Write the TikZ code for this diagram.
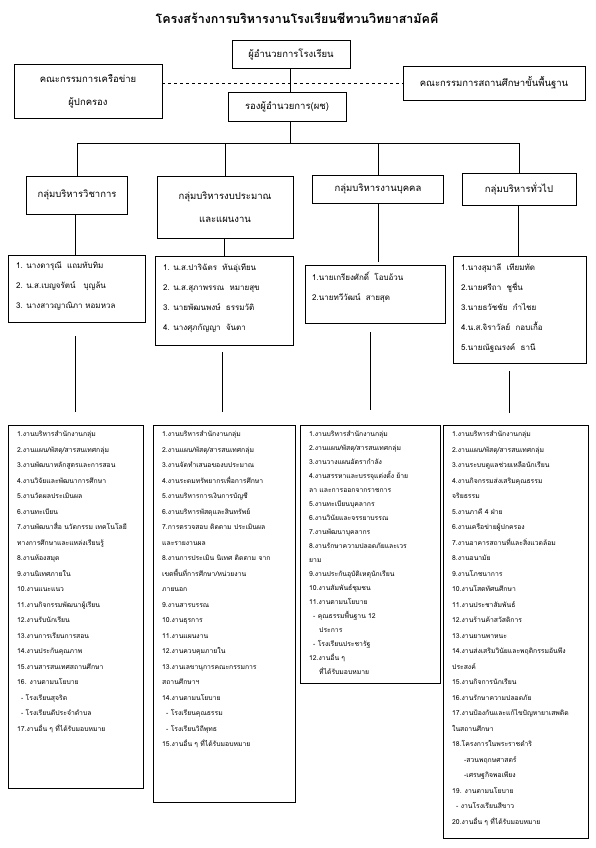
\documentclass[tikz,border=0pt]{standalone}
\usepackage{fontspec}
\setmainfont[Script=Thai]{Loma}
\begin{document}
\begin{tikzpicture}[x=1pt,y=-1pt,
  box/.style={draw, line width=0.8pt, inner sep=0pt},
  ln/.style={line width=0.8pt},
  midtxt/.style={font=\fontsize{9.5}{23}\selectfont, align=center},
  pertxt/.style={font=\fontsize{8}{20}\selectfont, align=left, anchor=north west, inner sep=0pt},
  tasktxt/.style={font=\fontsize{6.8}{15.5}\selectfont, align=left, anchor=north west, inner sep=0pt}]
\useasboundingbox[fill=white] (0,0) rectangle (595,848);

% title
\node[font=\fontsize{12.5}{14}\selectfont\bfseries] (title) at (297,18) {โครงสร้างการบริหารงานโรงเรียนชีทวนวิทยาสามัคคี};

% top level
\node[box, midtxt, minimum width=118pt, minimum height=28pt] (dir) at (291,54) {ผู้อำนวยการโรงเรียน};
\node[box, midtxt, minimum width=148pt, minimum height=54pt] (lc) at (88,91) {คณะกรรมการเครือข่าย\\ผู้ปกครอง};
\node[box, midtxt, minimum width=182pt, minimum height=34pt] (rc) at (494,83) {คณะกรรมการสถานศึกษาขั้นพื้นฐาน};
\node[box, midtxt, minimum width=118pt, minimum height=29pt] (dep) at (287,107) {รองผู้อำนวยการ(ผช)};

\draw[ln, dashed] (lc.east |- rc.west) -- (rc.west);
\draw[ln] (dir.south -| 290,0) -- (dep.north -| 290,0);

% groups
\node[box, midtxt, minimum width=101pt, minimum height=38pt] (g1) at (77,195) {กลุ่มบริหารวิชาการ};
\node[box, midtxt, minimum width=136pt, minimum height=62pt] (g2) at (225,207) {กลุ่มบริหารงบประมาณ\\และแผนงาน};
\node[box, midtxt, minimum width=131pt, minimum height=28pt] (g3) at (378,189) {กลุ่มบริหารงานบุคคล};
\node[box, midtxt, minimum width=114pt, minimum height=32pt] (g4) at (519,189) {กลุ่มบริหารทั่วไป};

\coordinate (bar) at (290,143);
\draw[ln] (dep.south -| bar) -- (bar);
\draw[ln] (g1.north |- bar) -- (g4.north |- bar);
\foreach \g in {g1,g2,g3,g4} \draw[ln] (\g.north |- bar) -- (\g.north);

% person boxes
\node[box, anchor=north west, minimum width=137pt, minimum height=67pt] (p1) at (8,255) {};
\node[box, anchor=north west, minimum width=138pt, minimum height=89pt] (p2) at (155,256) {};
\node[box, anchor=north west, minimum width=140pt, minimum height=58pt] (p3) at (305,265) {};
\node[box, anchor=north west, minimum width=133pt, minimum height=107pt] (p4) at (453,256) {};

\node[pertxt] (p1t) at (16,262) {1. นางดารุณี\ \ แถมทับทิม\\2. น.ส.เบญจรัตน์\ \ \ บุญล้น\\3. นางสาวญาณิภา หอมหวล};
\node[pertxt] (p2t) at (163,264) {1. น.ส.ปาริฉัตร\ \ ทันอุ่เทียน\\2. น.ส.สุภาพรรณ\ \ หมายสุข\\3. นายพัฒนพงษ์\ \ ธรรมวัติ\\4. นางศุภกัญญา\ \ จันตา};
\node[pertxt] (p3t) at (312,272) {1.นายเกรียงศักดิ์\ \ โอบอ้วน\\2.นายทวีวัฒน์\ \ สายสุด};
\node[pertxt] (p4t) at (461,264) {1.นางสุมาลี\ \ เทียมทัด\\2.นายศรีถา\ \ ชูชื่น\\3.นายธวัชชัย\ \ กำไชย\\4.น.ส.จิราวัลย์\ \ กอบเกื้อ\\5.นายณัฐณรงค์\ \ ธานี};

\draw[ln] (g1.south -| 75,0) -- (p1.north -| 75,0);
\draw[ln] (g2.south -| 224,0) -- (p2.north -| 224,0);
\draw[ln] (g3.south -| 378,0) coordinate (c3a) -- (378,262) coordinate (c3b);
\draw[ln] (g4.south -| 518,0) -- (p4.north -| 518,0);

% task boxes
\node[box, anchor=north west, minimum width=135pt, minimum height=363pt] (t1) at (8,425) {};
\node[box, anchor=north west, minimum width=142pt, minimum height=377pt] (t2) at (153,425) {};
\node[box, anchor=north west, minimum width=140pt, minimum height=258pt] (t3) at (300,425) {};
\node[box, anchor=north west, minimum width=145pt, minimum height=413pt] (t4) at (443,425) {};

\coordinate (a1) at (75,336); \coordinate (b1) at (75,412);
\coordinate (a2) at (222,352); \coordinate (b2) at (222,412);
\coordinate (a3) at (370,332); \coordinate (b3) at (370,410);
\coordinate (a4) at (509,371); \coordinate (b4) at (509,413);
\draw[ln] (a1) -- (b1);
\draw[ln] (a2) -- (b2);
\draw[ln] (a3) -- (b3);
\draw[ln] (a4) -- (b4);

\node[tasktxt] (t1t) at (17,431) {1.งานบริหารสำนักงานกลุ่ม\\2.งานแผน/พัสดุ/สารสนเทศกลุ่ม\\3.งานพัฒนาหลักสูตรและการสอน\\4.งานวิจัยและพัฒนาการศึกษา\\5.งานวัดผลประเมินผล\\6.งานทะเบียน\\7.งานพัฒนาสื่อ นวัตกรรม เทคโนโลยี\\ทางการศึกษาและแหล่งเรียนรู้\\8.งานห้องสมุด\\9.งานนิเทศภายใน\\10.งานแนะแนว\\11.งานกิจกรรมพัฒนาผู้เรียน\\12.งานรับนักเรียน\\13.งานการเรียนการสอน\\14.งานประกันคุณภาพ\\15.งานสารสนเทศสถานศึกษา\\16. งานตามนโยบาย\\\hspace*{4pt}- โรงเรียนสุจริต\\\hspace*{4pt}- โรงเรียนดีประจำตำบล\\17.งานอื่น ๆ ที่ได้รับมอบหมาย};

\node[tasktxt] (t2t) at (162,431) {1.งานบริหารสำนักงานกลุ่ม\\2.งานแผน/พัสดุ/สารสนเทศกลุ่ม\\3.งานจัดทำเสนอของบประมาณ\\4.งานระดมทรัพยากรเพื่อการศึกษา\\5.งานบริหารการเงินการบัญชี\\6.งานบริหารพัสดุและสินทรัพย์\\7.การตรวจสอบ ติดตาม ประเมินผล\\และรายงานผล\\8.งานการประเมิน นิเทศ ติดตาม จาก\\เขตพื้นที่การศึกษา/หน่วยงาน\\ภายนอก\\9.งานสารบรรณ\\10.งานธุรการ\\11.งานแผนงาน\\12.งานควบคุมภายใน\\13.งานเลขานุการคณะกรรมการ\\สถานศึกษาฯ\\14.งานตามนโยบาย\\\hspace*{4pt}- โรงเรียนคุณธรรม\\\hspace*{4pt}- โรงเรียนวิถีพุทธ\\15.งานอื่น ๆ ที่ได้รับมอบหมาย};

\node[tasktxt, font=\fontsize{6.8}{14}\selectfont] (t3t) at (309,431) {1.งานบริหารสำนักงานกลุ่ม\\2.งานแผน/พัสดุ/สารสนเทศกลุ่ม\\3.งานวางแผนอัตรากำลัง\\4.งานสรรหาและบรรจุแต่งตั้ง ย้าย\\ลา และการออกจากราชการ\\5.งานทะเบียนบุคลากร\\6.งานวินัยและจรรยาบรรณ\\7.งานพัฒนาบุคลากร\\8.งานรักษาความปลอดภัยและเวร\\ยาม\\9.งานประกันอุบัติเหตุนักเรียน\\10.งานสัมพันธ์ชุมชน\\11.งานตามนโยบาย\\\hspace*{4pt}- คุณธรรมพื้นฐาน 12\\\hspace*{10pt}ประการ\\\hspace*{4pt}- โรงเรียนประชารัฐ\\12.งานอื่น ๆ\\\hspace*{10pt}ที่ได้รับมอบหมาย};

\node[tasktxt] (t4t) at (452,431) {1.งานบริหารสำนักงานกลุ่ม\\2.งานแผน/พัสดุ/สารสนเทศกลุ่ม\\3.งานระบบดูแลช่วยเหลือนักเรียน\\4.งานกิจกรรมส่งเสริมคุณธรรม\\จริยธรรม\\5.งานภาคี 4 ฝ่าย\\6.งานเครือข่ายผู้ปกครอง\\7.งานอาคารสถานที่และสิ่งแวดล้อม\\8.งานอนามัย\\9.งานโภชนาการ\\10.งานโสตทัศนศึกษา\\11.งานประชาสัมพันธ์\\12.งานร้านค้าสวัสดิการ\\13.งานยานพาหนะ\\14.งานส่งเสริมวินัยและพฤติกรรมอันพึง\\ประสงค์\\15.งานกิจการนักเรียน\\16.งานรักษาความปลอดภัย\\17.งานป้องกันและแก้ไขปัญหายาเสพติด\\ในสถานศึกษา\\18.โครงการในพระราชดำริ\\\hspace*{12pt}-สวนพฤกษศาสตร์\\\hspace*{12pt}-เศรษฐกิจพอเพียง\\19. งานตามนโยบาย\\\hspace*{4pt}- งานโรงเรียนสีขาว\\20.งานอื่น ๆ ที่ได้รับมอบหมาย};
\end{tikzpicture}
\end{document}
